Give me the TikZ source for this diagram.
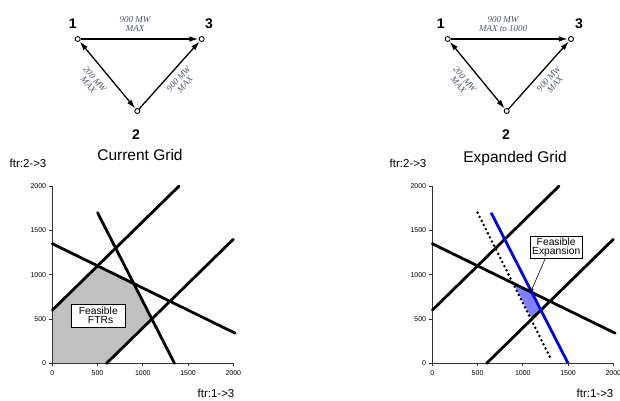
\documentclass[tikz,border=0pt]{standalone}
\usepackage{fontspec}
\setmainfont{Liberation Sans}
\newfontfamily\serifface{Liberation Serif}
\usetikzlibrary{arrows.meta}
\definecolor{lblgray}{HTML}{4E5666}
\definecolor{regiongray}{HTML}{C0C0C0}
\definecolor{expblue}{HTML}{8080FF}
\definecolor{lineblue}{HTML}{0000F0}
\definecolor{axisgray}{HTML}{333333}
\begin{document}
\begin{tikzpicture}[x=1pt,y=1pt,
  vtx/.style={circle,draw,line width=0.9pt,fill=white,minimum size=5pt,inner sep=0pt},
  num/.style={font=\fontsize{14}{14}\selectfont\bfseries},
  gtitle/.style={font=\fontsize{15.5}{16}\selectfont},
  axlbl/.style={font=\fontsize{11.5}{12}\selectfont},
  ticklbl/.style={font=\fontsize{7}{7}\selectfont,inner sep=1pt},
  elabel/.style={font=\serifface\itshape\fontsize{9}{8.5}\selectfont,text=lblgray,align=center,inner sep=0pt},
  tip/.tip={Latex[length=9pt,width=5.5pt]},
  oneway/.style={line width=1.3pt,-tip,shorten >=0.3pt},
  twoway/.style={line width=1.3pt,tip-tip,shorten >=0.3pt,shorten <=0.3pt},
  plotline/.style={line width=2.8pt,line cap=round},
  axisline/.style={line width=0.8pt,draw=axisgray},
  fbox/.style={draw,line width=0.7pt,fill=white,align=center,font=\fontsize{10.3}{9.6}\selectfont,inner sep=1pt},
]
\useasboundingbox (0,0) rectangle (620,400);

% ---------------- Current grid network ----------------
\node[vtx] (a1) at (77.7,361) {};
\node[vtx] (a3) at (201.7,361) {};
\node[vtx] (a2) at (137.3,289) {};
\node[num] (a1l) at (72.7,376) {1};
\node[num] (a3l) at (209,376) {3};
\node[num] (a2l) at (136,265) {2};
\node[gtitle] (atitle) at (140,245) {Current Grid};
\draw[oneway] (a1) -- (a3);
\draw[twoway] (a1) -- (a2);
\draw[oneway] (a2) -- (a3);
\node[elabel] (ae13) at (135,376) {900 MW\\MAX};
\node[elabel,rotate=-50] (ae12) at (91.7,318.3) {200 MW\\MAX};
\node[elabel,rotate=48] (ae23) at (181.7,318.3) {900 MW\\MAX};

% ---------------- Expanded grid network ----------------
\node[vtx] (b1) at (447.7,361) {};
\node[vtx] (b3) at (571,361) {};
\node[vtx] (b2) at (506.7,289) {};
\node[num] (b1l) at (440.7,376) {1};
\node[num] (b3l) at (579,376) {3};
\node[num] (b2l) at (506,265) {2};
\node[gtitle] (btitle) at (515,242) {Expanded Grid};
\draw[oneway] (b1) -- (b3);
\draw[twoway] (b1) -- (b2);
\draw[oneway] (b2) -- (b3);
\node[elabel] (be13) at (503,376) {900 MW\\MAX to 1000};
\node[elabel,rotate=-50] (be12) at (461.7,318.3) {200 MW\\MAX};
\node[elabel,rotate=48] (be23) at (551.7,318.3) {900 MW\\MAX};

% ---------------- axis titles ----------------
\node[axlbl] (ay) at (28,237) {ftr:2->3};
\node[axlbl] (by) at (408,237) {ftr:2->3};
\node[axlbl] (ax) at (216,7) {ftr:1->3};
\node[axlbl] (bx) at (595,7) {ftr:1->3};

% ---------------- Left plot ----------------
\begin{scope}[shift={(52.3,36.7)},x=0.0905pt,y=0.0886pt]
  \fill[regiongray] (0,0) -- (0,600) -- (500,1100) -- (900,900) -- (1100,500) -- (600,0) -- cycle;
  \draw[axisline] (0,0) -- (2000,0);
  \draw[axisline] (0,0) -- (0,2000);
  \foreach \v in {0,500,1000,1500,2000}{
    \draw[axisline] (\v,0) -- ++(0,-2.5pt);
    \draw[axisline] (0,\v) -- ++(-3pt,0);
    \node[ticklbl] (lxt\v) at ([yshift=-10pt]\v,0) {\v};
    \node[ticklbl,anchor=east] (lyt\v) at ([xshift=-5pt]0,\v) {\v};
  }
  \draw[plotline] (0,600) -- (1400,2000);
  \draw[plotline] (600,0) -- (2000,1400);
  \draw[plotline] (0,1350) -- (2020,340);
  \draw[plotline] (500,1700) -- (1350,0);
  \node[fbox,minimum width=54.7pt,minimum height=23pt] (ftrs) at (508,540) {Feasible\\\ \,FTRs};
\end{scope}

% ---------------- Right plot ----------------
\begin{scope}[shift={(432.3,36.7)},x=0.0905pt,y=0.0886pt]
  \fill[expblue] (900,900) -- (1100,800) -- (1200,600) -- (1100,500) -- cycle;
  \draw[axisline] (0,0) -- (2000,0);
  \draw[axisline] (0,0) -- (0,2000);
  \foreach \v in {0,500,1000,1500,2000}{
    \draw[axisline] (\v,0) -- ++(0,-2.5pt);
    \draw[axisline] (0,\v) -- ++(-3pt,0);
    \node[ticklbl] (rxt\v) at ([yshift=-10pt]\v,0) {\v};
    \node[ticklbl,anchor=east] (ryt\v) at ([xshift=-5pt]0,\v) {\v};
  }
  \draw[plotline] (0,600) -- (1400,2000);
  \draw[plotline] (600,0) -- (2000,1400);
  \draw[plotline] (0,1350) -- (2020,340);
  \draw[line width=2.8pt,line cap=round,dash pattern=on 0pt off 4.6pt] (500,1700) -- (1320,30);
  \draw[plotline,draw=lineblue,line cap=butt] (650,1700) -- (1500,0);
  \node[fbox,minimum width=52pt,minimum height=21.5pt] (fexp) at (1369,1307) {Feasible\\Expansion};
  \coordinate (exptip) at (1080,787);
  \draw[line width=0.6pt,-{Latex[length=5pt,width=3.5pt]}] ([xshift=-11pt]fexp.south) -- (exptip);
\end{scope}
\end{tikzpicture}
\end{document}
